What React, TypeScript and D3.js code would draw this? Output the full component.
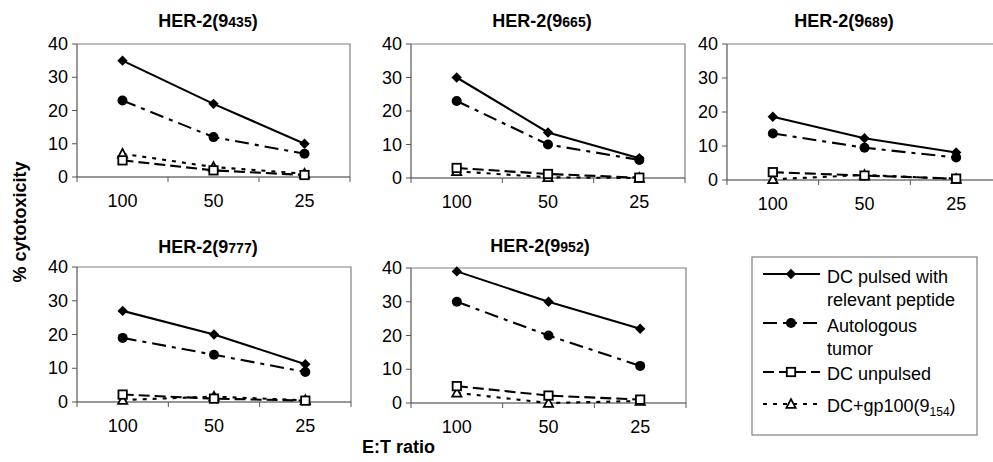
import React from "react";
import * as d3 from "d3";

const ratios = ["100", "50", "25"];
const yTicks = [0, 10, 20, 30, 40];
const panelNames = ["435", "665", "689", "777", "952"];
const seriesNames = ["DC pulsed with relevant peptide", "Autologous tumor", "DC unpulsed", "DC+gp100(9154)"];

// values per panel: [pulsed, autologous, unpulsed, gp100]
const her435 = [[35, 22, 10], [23, 12, 7], [5, 2, 0.6], [7, 3, 1]];
const her665 = [[30, 13.6, 5.9], [23, 10, 5.4], [3, 1.2, 0.1], [2, 0.2, 0]];
const her689 = [[18.6, 12.3, 8.1], [13.7, 9.5, 6.6], [2.3, 1.3, 0.4], [0.2, 1.5, 0.3]];
const her777 = [[27, 20, 11.2], [19, 14, 8.9], [2.2, 1, 0.4], [0.6, 1.6, 0.5]];
const her952 = [[39, 30, 22], [30, 20, 11], [5, 2.2, 1], [3, 0, 0.6]];
const panelData = [her435, her665, her689, her777, her952];

const layout = [
  { x0: 77, x1: 350, y0: 177, y1: 44, tx: 208, ty: 27 },
  { x0: 411, x1: 685, y0: 178, y1: 44, tx: 542, ty: 27 },
  { x0: 727, x1: 1002, y0: 180, y1: 44, tx: 844, ty: 27 },
  { x0: 77, x1: 351, y0: 402, y1: 267, tx: 208, ty: 253 },
  { x0: 411, x1: 686, y0: 403, y1: 268, tx: 540, ty: 252 },
];

const dashes = ["none", "14 6 4 6", "11 5", "4 6"];
const FONT = "'Liberation Sans', Arial, sans-serif";
const LW = 2.1;

function Marker({ k, x, y }: { k: number; x: number; y: number }) {
  if (k === 0) {
    const s = 5.2;
    return <path d={`M${x},${y - s}L${x + s},${y}L${x},${y + s}L${x - s},${y}Z`} fill="#000" />;
  }
  if (k === 1) return <circle cx={x} cy={y} r={5} fill="#000" />;
  if (k === 2) return <rect x={x - 4.2} y={y - 4.2} width={8.4} height={8.4} fill="#fff" stroke="#000" strokeWidth={1.8} />;
  return <path d={`M${x},${y - 4.8}L${x + 4.6},${y + 3.8}L${x - 4.6},${y + 3.8}Z`} fill="#fff" stroke="#000" strokeWidth={1.8} />;
}

function Panel({ idx }: { idx: number }) {
  const L = layout[idx];
  const data = panelData[idx];
  const x = d3.scaleBand<string>().domain(ratios).range([L.x0, L.x1]).padding(0);
  const y = d3.scaleLinear().domain([0, 40]).range([L.y0, L.y1]);
  const line = d3
    .line<number>()
    .x((_, i) => (x(ratios[i]) as number) + x.bandwidth() / 2)
    .y((v) => y(v));
  const bounds = ratios.map((r) => x(r) as number).concat([L.x1]);
  return (
    <g>
      <text x={L.tx} y={L.ty} textAnchor="middle" fontFamily={FONT} fontWeight="bold" fontSize={18}>
        HER-2(9<tspan fontSize={14}>{panelNames[idx]}</tspan>)
      </text>
      <path d={`M${L.x0},${L.y1}H${L.x1}V${L.y0}`} fill="none" stroke="#808080" strokeWidth={1.2} />
      <line x1={L.x0} x2={L.x0} y1={L.y1} y2={L.y0} stroke="#555" strokeWidth={1.2} />
      <line x1={L.x0} x2={L.x1} y1={L.y0} y2={L.y0} stroke="#333" strokeWidth={1.2} />
      {yTicks.map((t) => (
        <g key={t}>
          <line x1={L.x0 - 5} x2={L.x0} y1={y(t)} y2={y(t)} stroke="#555" strokeWidth={1} />
          <text x={L.x0 - 9} y={y(t) + 6} textAnchor="end" fontFamily={FONT} fontSize={18}>
            {t}
          </text>
        </g>
      ))}
      {bounds.map((b, i) => (
        <line key={i} x1={b} x2={b} y1={L.y0} y2={L.y0 + 5} stroke="#555" strokeWidth={1} />
      ))}
      {ratios.map((r) => (
        <text key={r} x={(x(r) as number) + x.bandwidth() / 2} y={L.y0 + 30} textAnchor="middle" fontFamily={FONT} fontSize={18}>
          {r}
        </text>
      ))}
      {[3, 2, 1, 0].map((k) => (
        <g key={k}>
          <path d={line(data[k]) as string} fill="none" stroke="#000" strokeWidth={LW} strokeDasharray={dashes[k]} />
          {data[k].map((v, i) => (
            <Marker key={i} k={k} x={(x(ratios[i]) as number) + x.bandwidth() / 2} y={y(v)} />
          ))}
        </g>
      ))}
    </g>
  );
}

function Legend() {
  const bx = 752, by = 257, bw = 225, bh = 178;
  const sampleX0 = 763, sampleX1 = 820, mx = 791, tx = 827;
  const rows = [
    { ly: 274, lines: ["DC pulsed with", "relevant peptide"], ty: 283 },
    { ly: 323, lines: ["Autologous", "tumor"], ty: 332 },
    { ly: 372, lines: ["DC unpulsed"], ty: 380 },
  ];
  const legDash = ["none", "14 6", "11 5"];
  return (
    <g>
      <rect x={bx} y={by} width={bw} height={bh} fill="#fff" stroke="#808080" strokeWidth={1.2} />
      {rows.map((r, k) => (
        <g key={k}>
          <line x1={sampleX0} x2={sampleX1} y1={r.ly} y2={r.ly} stroke="#000" strokeWidth={LW} strokeDasharray={legDash[k]} />
          <Marker k={k} x={mx} y={r.ly} />
          {r.lines.map((t, j) => (
            <text key={j} x={tx} y={r.ty + j * 23} fontFamily={FONT} fontSize={18}>
              {t}
            </text>
          ))}
        </g>
      ))}
      <line x1={sampleX0} x2={sampleX1} y1={404} y2={404} stroke="#000" strokeWidth={LW} strokeDasharray="4 6" />
      <Marker k={3} x={mx} y={404} />
      <text x={tx} y={412} fontFamily={FONT} fontSize={18}>
        DC+gp100(9<tspan fontSize={12} dy={4}>154</tspan>
        <tspan dy={-4}>)</tspan>
      </text>
    </g>
  );
}

export default function App() {
  return (
    <svg width={993} height={462} style={{ position: "absolute", left: 0, top: 0, background: "#fff" }}>
      <rect width={993} height={462} fill="#fff" />
      {layout.map((_, i) => (
        <Panel key={i} idx={i} />
      ))}
      <Legend />
      <text transform="translate(26,222) rotate(-90)" textAnchor="middle" fontFamily={FONT} fontWeight="bold" fontSize={18}>
        % cytotoxicity
      </text>
      <text x={362} y={453} fontFamily={FONT} fontWeight="bold" fontSize={18}>
        E:T ratio
      </text>
    </svg>
  );
}
